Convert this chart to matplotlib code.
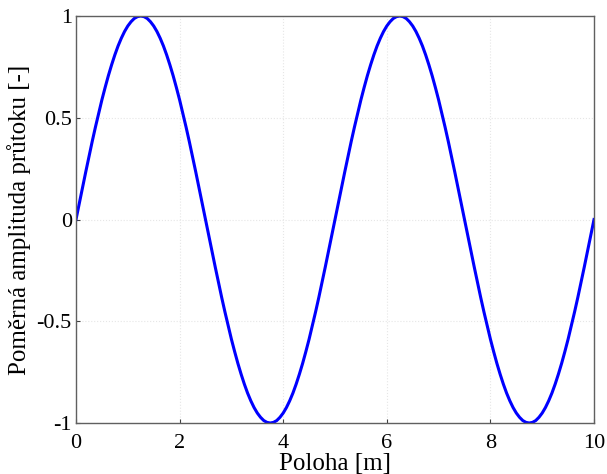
import matplotlib
matplotlib.use("Agg")
import matplotlib.pyplot as plt

# Position along the pipe [m], step 0.0625
poloha = [i * 0.0625 for i in range(161)]

# Relative flow amplitude (one value per position)
amplituda = [
    0.000, 0.078, 0.156, 0.233, 0.309, 0.383, 0.454, 0.522, 0.588, 0.649,
    0.707, 0.760, 0.809, 0.853, 0.891, 0.924, 0.951, 0.972, 0.988, 0.997,
    1.000, 0.997, 0.988, 0.972, 0.951, 0.924, 0.891, 0.853, 0.809, 0.760,
    0.707, 0.649, 0.588, 0.522, 0.454, 0.383, 0.309, 0.233, 0.156, 0.078,
    0.000, -0.078, -0.156, -0.233, -0.309, -0.383, -0.454, -0.522, -0.588, -0.649,
    -0.707, -0.760, -0.809, -0.853, -0.891, -0.924, -0.951, -0.972, -0.988, -0.997,
    -1.000, -0.997, -0.988, -0.972, -0.951, -0.924, -0.891, -0.853, -0.809, -0.760,
    -0.707, -0.649, -0.588, -0.522, -0.454, -0.383, -0.309, -0.233, -0.156, -0.078,
    0.000, 0.078, 0.156, 0.233, 0.309, 0.383, 0.454, 0.522, 0.588, 0.649,
    0.707, 0.760, 0.809, 0.853, 0.891, 0.924, 0.951, 0.972, 0.988, 0.997,
    1.000, 0.997, 0.988, 0.972, 0.951, 0.924, 0.891, 0.853, 0.809, 0.760,
    0.707, 0.649, 0.588, 0.522, 0.454, 0.383, 0.309, 0.233, 0.156, 0.078,
    0.000, -0.078, -0.156, -0.233, -0.309, -0.383, -0.454, -0.522, -0.588, -0.649,
    -0.707, -0.760, -0.809, -0.853, -0.891, -0.924, -0.951, -0.972, -0.988, -0.997,
    -1.000, -0.997, -0.988, -0.972, -0.951, -0.924, -0.891, -0.853, -0.809, -0.760,
    -0.707, -0.649, -0.588, -0.522, -0.454, -0.383, -0.309, -0.233, -0.156, -0.078,
    0.000,
]

x_ticks = [0, 2, 4, 6, 8, 10]
y_ticks = [-1, -0.5, 0, 0.5, 1]
y_tick_labels = ["-1", "-0.5", "0", "0.5", "1"]

plt.rcParams["font.family"] = ["Liberation Serif", "DejaVu Serif"]

fig = plt.figure(figsize=(6.07, 4.74), dpi=100)
ax = fig.add_axes([0.1252, 0.1076, 0.8534, 0.8586])

ax.plot(poloha, amplituda, color="#0000ff", linewidth=2.2)

ax.set_xlim(0, 10)
ax.set_ylim(-1, 1)
ax.set_xticks(x_ticks)
ax.set_yticks(y_ticks)
ax.set_yticklabels(y_tick_labels)
ax.tick_params(direction="in", length=3, labelsize=16, colors="#404040",
               labelcolor="black")
ax.tick_params(axis="x", pad=8)
ax.tick_params(axis="y", pad=3)
ax.grid(True, color="#e6e6e6", linewidth=0.8, linestyle=":")
for spine in ax.spines.values():
    spine.set_color("#606060")
    spine.set_linewidth(1.0)

ax.set_xlabel("Poloha [m]", fontsize=18, labelpad=0)
ax.set_ylabel("Poměrná amplituda průtoku [-]", fontsize=18, labelpad=4)

fig.savefig("out.png", dpi=100)
